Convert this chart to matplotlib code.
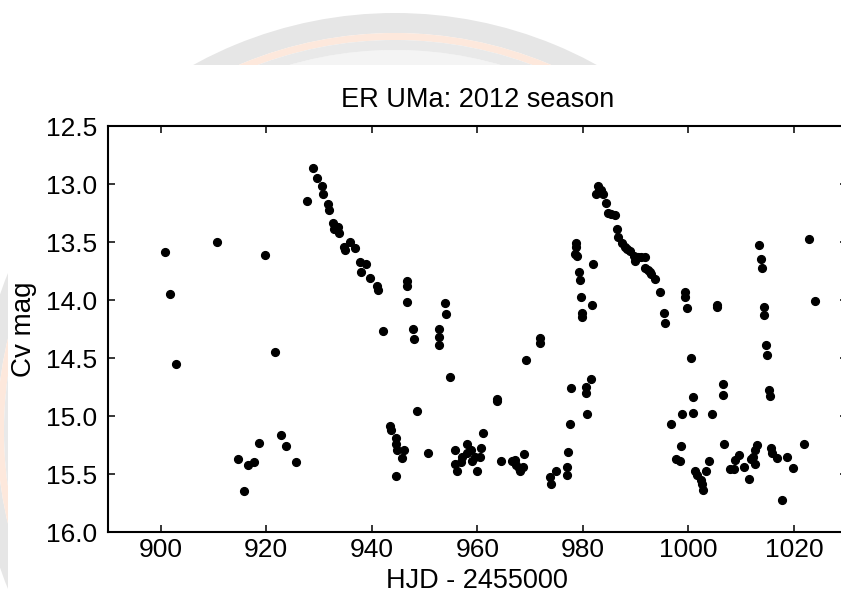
import numpy as np
import matplotlib
matplotlib.use("Agg")
import matplotlib.pyplot as plt
from matplotlib.patches import Wedge, Circle, Rectangle

plt.rcParams.update({
    "font.family": ["Liberation Sans", "DejaVu Sans"],
    "xtick.direction": "in",
    "ytick.direction": "in",
})

# ER UMa light curve, 2012 season
hjd = [900.8, 901.7, 902.8, 910.6, 914.7, 915.7, 916.6, 917.6, 918.7, 919.7, 921.7, 922.8, 923.8, 925.7,
       927.8, 928.8, 929.7, 930.5, 930.8, 931.6, 931.9, 932.6, 932.9, 933.6, 933.8, 934.7, 934.9, 935.9, 936.9, 937.8, 938.0, 938.8, 939.7, 941.0, 941.1, 942.1,
       943.5, 943.6, 944.5, 944.6, 944.6, 944.7, 945.8, 946.0, 946.6, 946.6, 946.7, 947.8, 947.9, 948.6, 950.7,
       952.7, 952.7, 952.7, 953.8, 954.0, 954.8,
       955.8, 955.8, 956.1, 956.9, 957.1, 958.0, 958.1, 958.8, 959.0, 959.6, 959.9, 960.5, 960.7, 961.0,
       963.7, 963.8, 964.5, 966.5, 967.2, 967.4, 967.8, 968.1, 968.6, 968.8, 969.3, 971.8, 971.8,
       973.7, 973.9, 974.9, 976.9, 976.9, 977.1, 977.6, 977.7,
       978.5, 978.6, 978.7, 978.9, 979.2, 979.4, 979.6, 979.8, 979.9, 980.5, 980.6, 980.8, 981.6, 981.8, 981.9,
       982.4, 982.8, 983.0, 983.4, 983.8, 984.4, 984.8, 985.3, 986.0, 986.5, 986.7, 987.4, 987.9, 988.4, 989.0, 989.6, 989.8, 990.4, 991.0, 991.7, 991.8, 992.3, 992.7, 992.9, 993.6, 994.7, 995.3, 995.5,
       996.7, 997.7, 998.4, 998.6, 998.7, 999.3, 999.4, 999.8, 1000.4, 1000.8, 1000.8, 1001.3, 1001.6, 1002.3, 1002.6, 1002.8, 1003.4, 1003.9, 1004.4, 1005.4, 1005.5, 1006.5, 1006.6, 1006.8,
       1007.8, 1008.6, 1008.9, 1009.6, 1010.6, 1011.4, 1011.8, 1012.3, 1012.7, 1012.7, 1013.0,
       1013.3, 1013.8, 1013.9, 1014.3, 1014.4, 1014.7, 1014.8, 1015.3, 1015.4, 1015.7, 1015.9, 1016.8, 1017.8, 1018.7, 1019.8, 1021.9, 1022.8, 1023.9]

cv_mag = [13.59, 13.95, 14.55, 13.50, 15.37, 15.65, 15.42, 15.40, 15.23, 13.61, 14.45, 15.16, 15.26, 15.40,
          13.15, 12.86, 12.95, 13.02, 13.09, 13.17, 13.22, 13.34, 13.39, 13.37, 13.42, 13.54, 13.57, 13.50, 13.55, 13.67, 13.76, 13.69, 13.81, 13.88, 13.91, 14.27,
          15.09, 15.12, 15.24, 15.19, 15.52, 15.29, 15.36, 15.29, 13.84, 14.02, 13.88, 14.25, 14.34, 14.96, 15.32,
          14.25, 14.32, 14.39, 14.03, 14.12, 14.66,
          15.29, 15.41, 15.47, 15.40, 15.35, 15.24, 15.32, 15.29, 15.39, 15.35, 15.47, 15.35, 15.28, 15.15,
          14.85, 14.87, 15.39, 15.39, 15.38, 15.42, 15.45, 15.47, 15.44, 15.33, 14.52, 14.33, 14.37,
          15.53, 15.59, 15.47, 15.44, 15.51, 15.31, 15.07, 14.76,
          13.60, 13.51, 13.54, 13.62, 13.76, 13.83, 13.97, 14.11, 14.15, 14.75, 14.80, 14.98, 14.68, 14.04, 13.69,
          13.09, 13.02, 13.05, 13.05, 13.09, 13.16, 13.25, 13.26, 13.27, 13.39, 13.46, 13.51, 13.54, 13.56, 13.58, 13.62, 13.66, 13.63, 13.63, 13.63, 13.72, 13.74, 13.76, 13.78, 13.82, 13.93, 14.11, 14.20,
          15.07, 15.37, 15.39, 15.26, 14.98, 13.93, 13.97, 14.07, 14.50, 14.84, 14.97, 15.47, 15.51, 15.55, 15.59, 15.64, 15.47, 15.39, 14.98, 14.04, 14.06, 14.72, 14.82, 15.24,
          15.46, 15.46, 15.38, 15.34, 15.44, 15.54, 15.37, 15.35, 15.41, 15.29, 15.25,
          13.53, 13.65, 13.72, 14.06, 14.13, 14.39, 14.47, 14.78, 14.83, 15.28, 15.32, 15.36, 15.72, 15.35, 15.45, 15.24, 13.47, 14.01]

x_ticks = [900, 920, 940, 960, 980, 1000, 1020]
y_ticks = [12.5, 13.0, 13.5, 14.0, 14.5, 15.0, 15.5, 16.0]

W, H = 841, 597
fig = plt.figure(figsize=(W / 100, H / 100), dpi=100)

# faint document watermark behind the pasted chart (pixel coords)
cx, cy = 395, H - 431
fig.add_artist(Circle((cx, cy), 381, transform=None, color="#f4f4f4", lw=0, zorder=-10))
fig.add_artist(Wedge((cx, cy), 418, 0, 360, width=20, transform=None, color="#e6e6e6", lw=0, zorder=-9))
fig.add_artist(Wedge((cx, cy), 398, 0, 360, width=7, transform=None, color="#fde8dc", lw=0, zorder=-9))
fig.add_artist(Wedge((cx, cy), 391, 0, 360, width=10, transform=None, color="#e9e9e9", lw=0, zorder=-9))
fig.add_artist(Rectangle((8, 0), W - 8, H - 65, transform=None, color="white", lw=0, zorder=-5))

ax = fig.add_axes([108 / W, 65 / H, 738.75 / W, 406 / H])
ax.plot(hjd, cv_mag, "o", color="black", ms=5.6, mec="black")

ax.set_xlim(890, 1030)
ax.set_ylim(16.0, 12.5)
ax.set_xticks(x_ticks)
ax.set_yticks(y_ticks)
ax.set_yticklabels(["%.1f" % v for v in y_ticks])
ax.tick_params(top=True, right=True, length=5, width=1.1, labelsize=19)
ax.tick_params(axis="x", pad=4)
ax.tick_params(axis="y", pad=8)
for s in ax.spines.values():
    s.set_linewidth(1.5)

ax.set_xlabel("HJD - 2455000", fontsize=19.5)
ax.set_ylabel("Cv mag", fontsize=20)
ax.xaxis.set_label_coords(0.5, -0.089)
ax.yaxis.set_label_coords(-0.096, 0.5)
ax.set_title("ER UMa: 2012 season", fontsize=19.5, pad=13.5)

fig.savefig("out.png", dpi=100)
